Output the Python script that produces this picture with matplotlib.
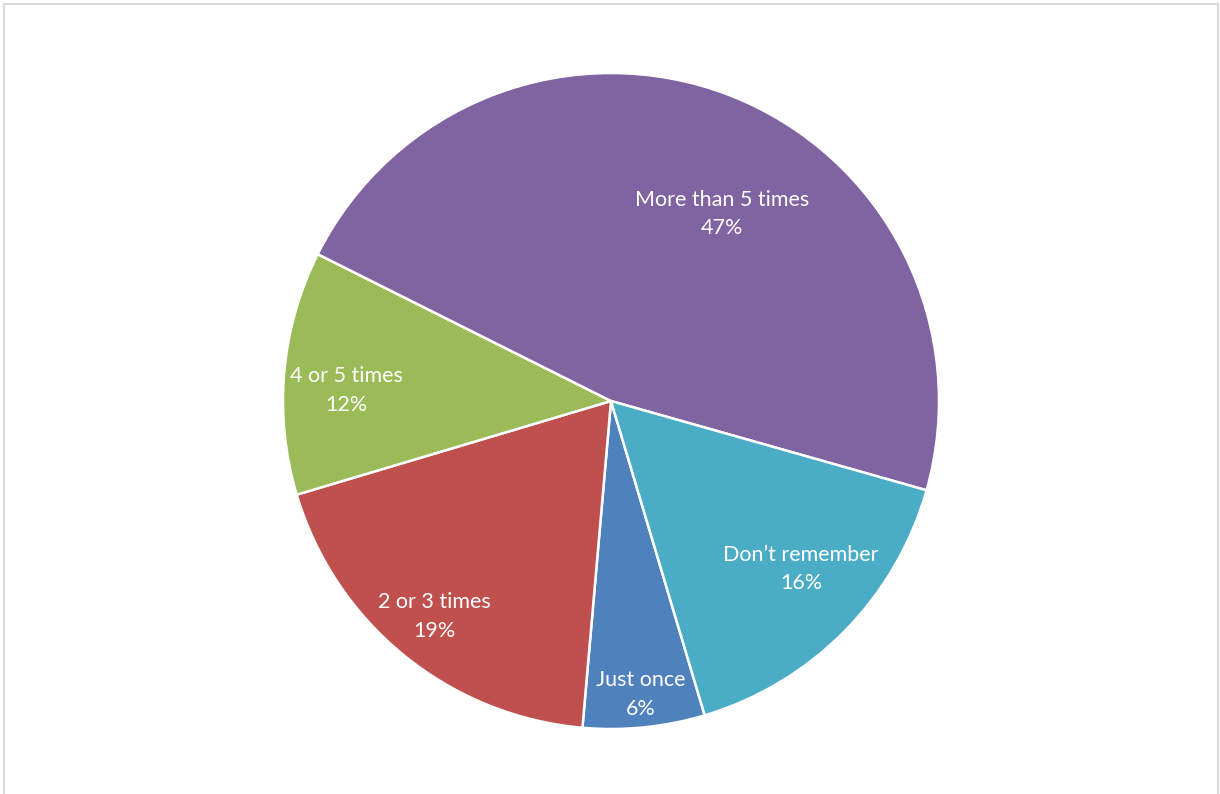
import numpy as np
import matplotlib
matplotlib.use("Agg")
import matplotlib.pyplot as plt
from matplotlib.patches import Rectangle

# Survey answers, in series order (drawn clockwise)
categories = ["Just once", "2 or 3 times", "4 or 5 times", "More than 5 times", "Don\u2019t remember"]
shares = [6, 19, 12, 47, 16]
colors = ["#4F81BD", "#C0504D", "#9BBB59", "#8064A2", "#4BACC6"]

# Label placement inside each wedge: radial fraction and angular nudge (deg)
label_radius = [0.90, 0.85, 0.808, 0.663, 0.773]
label_nudge = [0.0, -0.1, 2.8, -9.5, 3.1]

W, H, DPI = 1220, 794, 100
fig = plt.figure(figsize=(W / DPI, H / DPI), dpi=DPI)
fig.patch.set_facecolor("white")

cx, cy, R = 611, 401, 328  # pixel centre and radius of the pie
ax = fig.add_axes([0, 0, 1, 1])

wedges, _ = ax.pie(
    shares,
    colors=colors,
    startangle=-73.4,
    counterclock=False,
    radius=1.0,
    wedgeprops=dict(edgecolor="white", linewidth=1.8),
)
ax.set_xlim(-cx / R, (W - cx) / R)
ax.set_ylim(-(H - cy) / R, cy / R)
ax.set_aspect("equal")
ax.axis("off")

for w, cat, val, rf, nd in zip(wedges, categories, shares, label_radius, label_nudge):
    mid = np.deg2rad((w.theta1 + w.theta2) / 2 + nd)
    x, y = rf * np.cos(mid), rf * np.sin(mid)
    ax.text(x, y, f"{cat}\n{val}%", ha="center", va="center", color="white",
            fontsize=15.5, family=["Lato", "DejaVu Sans"], linespacing=1.55)

# chart-area border
fig.patches.append(Rectangle((4 / W, -0.01), (1214) / W, 1 - 4 / H + 0.01,
                             transform=fig.transFigure, fill=False,
                             edgecolor="#D9D9D9", linewidth=1.5))

fig.savefig("out.png", dpi=DPI, facecolor="white")
